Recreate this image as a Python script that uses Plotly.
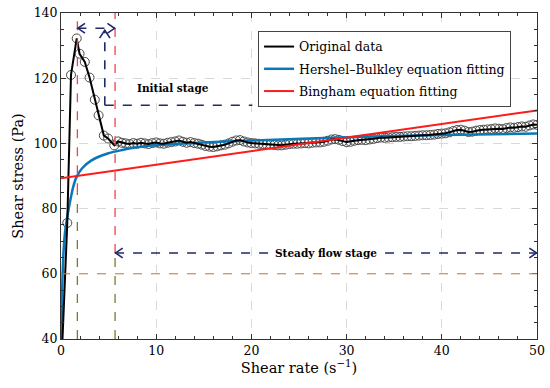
import plotly.graph_objects as go

# ---------------- data ----------------
initial_rate = [0.1, 0.66, 1.05, 1.65, 1.95, 2.5, 3.0, 3.55, 3.95, 4.5, 4.95, 5.6]
initial_stress = [36.0, 75.6, 121.0, 132.2, 127.5, 125.0, 120.2, 113.4, 108.6, 102.4, 101.5, 99.4]

steady_rate = [
    6.0, 6.4, 6.8, 7.2, 7.6, 8.0, 8.4, 8.8, 9.2, 9.6,
    10.0, 10.4, 10.8, 11.2, 11.6, 12.0, 12.4, 12.8, 13.2, 13.6,
    14.0, 14.4, 14.8, 15.2, 15.6, 16.0, 16.4, 16.8, 17.2, 17.6,
    18.0, 18.4, 18.8, 19.2, 19.6, 20.0, 20.4, 20.8, 21.2, 21.6,
    22.0, 22.4, 22.8, 23.2, 23.6, 24.0, 24.4, 24.8, 25.2, 25.6,
    26.0, 26.4, 26.8, 27.2, 27.6, 28.0, 28.4, 28.8, 29.2, 29.6,
    30.0, 30.4, 30.8, 31.2, 31.6, 32.0, 32.4, 32.8, 33.2, 33.6,
    34.0, 34.4, 34.8, 35.2, 35.6, 36.0, 36.4, 36.8, 37.2, 37.6,
    38.0, 38.4, 38.8, 39.2, 39.6, 40.0, 40.4, 40.8, 41.2, 41.6,
    42.0, 42.4, 42.8, 43.2, 43.6, 44.0, 44.4, 44.8, 45.2, 45.6,
    46.0, 46.4, 46.8, 47.2, 47.6, 48.0, 48.4, 48.8, 49.2, 49.6,
    50.0,
]
steady_stress = [
    100.6, 100.2, 100.0, 99.8, 100.1, 99.9, 100.2, 100.0, 99.8, 100.1,
    100.3, 100.0, 99.9, 100.2, 100.4, 100.6, 100.9, 100.5, 100.2, 100.4,
    100.1, 99.9, 99.6, 99.2, 99.0, 98.9, 99.1, 99.4, 99.6, 100.0,
    100.5, 100.9, 101.0, 100.6, 100.3, 100.1, 100.0, 99.9, 99.8, 99.7,
    99.6, 99.5, 99.4, 99.4, 99.6, 99.8, 99.9, 99.9, 100.0, 100.1,
    100.0, 100.2, 100.3, 100.3, 100.5, 100.8, 101.2, 101.3, 101.1, 100.7,
    100.4, 100.5, 100.8, 101.0, 101.1, 101.0, 101.2, 101.4, 101.6, 101.8,
    101.7, 101.8, 101.9, 102.0, 102.0, 102.1, 102.2, 102.2, 102.3, 102.4,
    102.5, 102.5, 102.6, 102.7, 102.9, 103.0, 103.1, 103.4, 103.8, 104.1,
    104.2, 103.9, 103.5, 103.6, 103.9, 104.1, 104.2, 104.3, 104.4, 104.6,
    104.5, 104.4, 104.7, 104.9, 104.8, 105.0, 105.2, 105.1, 105.5, 105.8,
    105.7,
]

hb_rate = [0.03, 0.15, 0.3, 0.45, 0.66, 0.9, 1.25, 1.6, 2.2, 3.2, 4.9, 6.3, 8.0, 10.0, 15.0, 20.0, 30.0, 40.0, 50.0]
hb_stress = [40.0, 58.0, 68.5, 73.5, 77.5, 81.4, 86.3, 89.5, 92.3, 94.8, 96.9, 97.9, 98.8, 99.5, 100.3, 100.9, 101.9, 102.6, 103.0]

bingham_rate = [0.0, 50.0]
bingham_stress = [89.3, 110.1]

stage_bounds = [1.72, 5.68]
stage_split_stress = [85.0, 66.4]
ref_stress = 60.0

x_ticks = [0, 10, 20, 30, 40, 50]
y_ticks = [40, 60, 80, 100, 120, 140]

top_arrow_y = 135.3
initial_bracket_x = 4.6
initial_bracket_y = 111.7
initial_bracket_end = 20.1
initial_label = ("Initial stage", 11.8, 116.9)
steady_arrow_y = 66.4
steady_label = ("Steady flow stage", 27.8, 66.4)

shear_rate = initial_rate + steady_rate
shear_stress = initial_stress + steady_stress

SERIF = "DejaVu Serif"
NAVY = "#1e2a6a"
RED_D = "#ec4650"
OLIVE = "#7d7a2c"

fig = go.Figure()
fig.add_trace(go.Scatter(
    x=shear_rate, y=shear_stress, mode="markers", showlegend=False,
    marker=dict(symbol="circle-open", size=9, color="#4a4a4a", line=dict(width=1)),
))
fig.add_trace(go.Scatter(
    x=hb_rate, y=hb_stress, mode="lines", name="Hershel–Bulkley equation fitting",
    line=dict(color="#0a78b8", width=2.5, shape="spline", smoothing=0.8), legendrank=2, legendgroup="b",
))
fig.add_trace(go.Scatter(
    x=shear_rate, y=shear_stress, mode="lines", name="Original data",
    line=dict(color="black", width=2), legendrank=1, legendgroup="a",
))
fig.add_trace(go.Scatter(
    x=bingham_rate, y=bingham_stress, mode="lines", name="Bingham equation fitting",
    line=dict(color="#ff1a1a", width=2), legendrank=3, legendgroup="c",
))

shapes = []
for xb, ys in zip(stage_bounds, stage_split_stress):
    shapes.append(dict(type="line", x0=xb, x1=xb, y0=ys, y1=140, xref="x", yref="y",
                       line=dict(color=RED_D, width=1.3, dash="dash"), layer="above"))
    shapes.append(dict(type="line", x0=xb, x1=xb, y0=40, y1=ys, xref="x", yref="y",
                       line=dict(color=OLIVE, width=1.3, dash="dash"), layer="above"))
shapes.append(dict(type="line", x0=0, x1=50, y0=ref_stress, y1=ref_stress, xref="x", yref="y",
                   line=dict(color="#d07a40", width=1, dash="dash"), layer="above"))

nav = dict(color=NAVY, width=1.6, dash="dash")
navs = dict(color=NAVY, width=1.6)
CX, CY = 0.75, 1.5


def chevron_h(xt, y, d):
    return dict(type="path", xref="x", yref="y", line=navs,
                path=f"M {xt - d*CX} {y + CY} L {xt} {y} L {xt - d*CX} {y - CY}")


def chevron_up(x, yt):
    return dict(type="path", xref="x", yref="y", line=navs,
                path=f"M {x - 0.55} {yt - 2.4} L {x} {yt} L {x + 0.55} {yt - 2.4}")


shapes.append(dict(type="line", x0=stage_bounds[0], x1=stage_bounds[1], y0=top_arrow_y, y1=top_arrow_y,
                   xref="x", yref="y", line=nav))
shapes.append(chevron_h(stage_bounds[0] + 0.05, top_arrow_y, -1))
shapes.append(chevron_h(stage_bounds[1] - 0.05, top_arrow_y, 1))
shapes.append(dict(type="line", x0=initial_bracket_x, x1=initial_bracket_x, y0=initial_bracket_y,
                   y1=top_arrow_y - 0.6, xref="x", yref="y", line=nav))
shapes.append(chevron_up(initial_bracket_x, top_arrow_y - 0.6))
shapes.append(dict(type="line", x0=initial_bracket_x, x1=initial_bracket_end, y0=initial_bracket_y,
                   y1=initial_bracket_y, xref="x", yref="y", line=nav))
shapes.append(dict(type="line", x0=stage_bounds[1], x1=50, y0=steady_arrow_y, y1=steady_arrow_y,
                   xref="x", yref="y", line=nav))
shapes.append(chevron_h(stage_bounds[1] + 0.05, steady_arrow_y, -1))
shapes.append(chevron_h(49.95, steady_arrow_y, 1))

annotations = [
    dict(text=f"<b>{initial_label[0]}</b>", x=initial_label[1], y=initial_label[2], xref="x", yref="y",
         showarrow=False, font=dict(family=SERIF, size=10.5, color="black")),
    dict(text=f"<b>{steady_label[0]}</b>", x=steady_label[1], y=steady_label[2], xref="x", yref="y",
         showarrow=False, font=dict(family=SERIF, size=10.5, color="black"), bgcolor="white", borderpad=0),
]

axis_common = dict(
    showline=True, linecolor="#333333", linewidth=1, mirror="allticks",
    ticks="inside", ticklen=5, tickcolor="#333333",
    showgrid=True, gridcolor="#d9d9d9", griddash="dash", gridwidth=1,
    zeroline=False, tickfont=dict(family=SERIF, size=12.5, color="black"),
    automargin=False,
)

fig.update_layout(
    width=550, height=388,
    margin=dict(l=61, r=13, t=13, b=49),
    paper_bgcolor="white", plot_bgcolor="white",
    font=dict(family=SERIF, color="black"),
    shapes=shapes, annotations=annotations,
    xaxis=dict(range=[0, 50], tickvals=x_ticks, **axis_common,
               minor=dict(dtick=2, ticks="inside", ticklen=3, tickcolor="#333333", showgrid=False),
               title=dict(text="Shear rate (s<sup>−1</sup>)", font=dict(family=SERIF, size=14.5), standoff=2)),
    yaxis=dict(range=[40, 140], tickvals=y_ticks, **axis_common,
               minor=dict(dtick=5, ticks="inside", ticklen=3, tickcolor="#333333", showgrid=False),
               title=dict(text="Shear stress (Pa)", font=dict(family=SERIF, size=14.5), standoff=6)),
    legend=dict(x=0.414, y=0.945, xanchor="left", yanchor="top",
                bgcolor="white", bordercolor="#444444", borderwidth=1,
                font=dict(family=SERIF, size=12.5), tracegroupgap=3, itemwidth=30),
)

fig.write_html("out.html", config={"displayModeBar": False},
               post_script="document.body.style.margin='0';")
